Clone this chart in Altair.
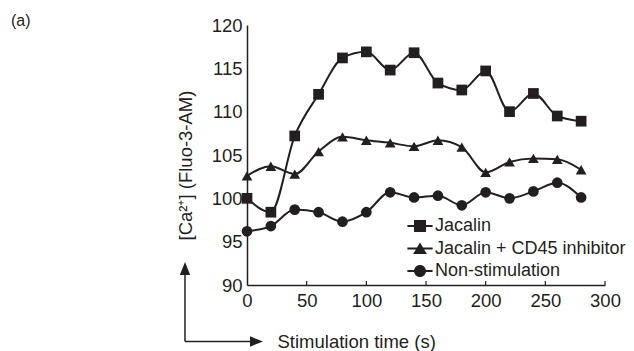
import altair as alt
import pandas as pd

# ---- data ----
time_s = [0, 20, 40, 60, 80, 100, 120, 140, 160, 180, 200, 220, 240, 260, 280]
jacalin = [100.0, 98.4, 107.2, 112.0, 116.2, 116.9, 114.8, 116.8, 113.3, 112.5, 114.7, 110.0, 112.1, 109.5, 108.9]
jacalin_cd45 = [102.6, 103.7, 102.8, 105.4, 107.1, 106.7, 106.4, 106.0, 106.7, 105.9, 103.0, 104.2, 104.6, 104.5, 103.3]
non_stim = [96.2, 96.8, 98.7, 98.4, 97.3, 98.4, 100.7, 100.1, 100.3, 99.2, 100.7, 100.0, 100.8, 101.8, 100.1]
series_names = ["Jacalin", "Jacalin + CD45 inhibitor", "Non-stimulation"]
x_ticks = [0, 50, 100, 150, 200, 250, 300]
y_ticks = [90, 95, 100, 105, 110, 115, 120]

rows = []
for name, vals in zip(series_names, [jacalin, jacalin_cd45, non_stim]):
    for t, v in zip(time_s, vals):
        rows.append({"time": t, "value": v, "series": name})
df = pd.DataFrame(rows)

C = "#231f20"
FONT = "Liberation Sans"
FS = 18.5

x_enc = alt.X("time:Q", scale=alt.Scale(domain=[0, 300], nice=False),
              axis=alt.Axis(values=x_ticks, title="Stimulation time (s)", titleX=30, titleY=56,
                            titleAlign="left", titleBaseline="middle", titleFontSize=FS,
                            titleFontWeight="normal", titleFont=FONT, titleColor=C,
                            ticks=False, grid=False, domainColor=C, domainWidth=1.5,
                            labelFontSize=FS, labelFont=FONT, labelColor=C, labelPadding=6,
                            labelFlush=False, labelOverlap=False))
y_enc = alt.Y("value:Q", scale=alt.Scale(domain=[90, 120], nice=False, zero=False),
              axis=alt.Axis(values=y_ticks, title="[Ca²⁺] (Fluo-3-AM)", titleAngle=270,
                            titleX=-62, titleY=140, titleAlign="center", titleBaseline="middle",
                            titleFontSize=FS, titleFontWeight="normal", titleFont=FONT, titleColor=C,
                            ticks=False, grid=False, domainColor=C, domainWidth=1.5,
                            labelFontSize=FS, labelFont=FONT, labelColor=C, labelPadding=5,
                            labelFlush=False, labelOverlap=False))

lines = alt.Chart(df).mark_line(interpolate="monotone", color=C, strokeWidth=2).encode(
    x=x_enc, y=y_enc, detail="series:N")

points = alt.Chart(df).mark_point(filled=True, color=C, opacity=1, size=115).encode(
    x="time:Q", y="value:Q",
    shape=alt.Shape("series:N", scale=alt.Scale(domain=series_names,
                                                range=["square", "triangle-up", "circle"]),
                    legend=None))

leg_paths = [
    "M-2.1,-0.17H-1V-1H1V-0.17H2.1V0.17H1V1H-1V0.17H-2.1Z",
    "M0,-1L1.15,0.9H-1.15Z M-2.1,-0.17H2.1V0.17H-2.1Z",
    "M-1,0A1,1 0 1,1 1,0A1,1 0 1,1 -1,0Z M-2.1,-0.17H2.1V0.17H-2.1Z",
]
legend_layer = alt.Chart(df).mark_point(filled=True, color=C, opacity=0).encode(
    x="time:Q", y="value:Q",
    shape=alt.Shape("series:N", scale=alt.Scale(domain=series_names, range=leg_paths),
                    legend=alt.Legend(title=None, orient="none", legendX=164, legendY=192,
                                      symbolSize=144, symbolOpacity=1, symbolFillColor=C,
                                      symbolStrokeWidth=0, labelOffset=6, labelFontSize=18,
                                      labelFont=FONT, labelColor=C, rowPadding=4.5, padding=0,
                                      labelLimit=0)))

tick_df = pd.DataFrame({"t": x_ticks[1:]})
ticks = alt.Chart(tick_df).mark_rule(color=C, strokeWidth=1.2).encode(
    x="t:Q", y=alt.value(260), y2=alt.value(256))

one = pd.DataFrame({"k": [0]})
v_arrow = alt.Chart(one).mark_rule(color=C, strokeWidth=1.5).encode(
    x=alt.value(-62), y=alt.value(316.5), y2=alt.value(243))
h_arrow = alt.Chart(one).mark_rule(color=C, strokeWidth=1.5).encode(
    x=alt.value(-62), x2=alt.value(10), y=alt.value(316.5))
v_head = alt.Chart(one).mark_point(filled=True, color=C, opacity=1, size=169,
                                   shape="M0,-1L0.8,1H-0.8Z").encode(
    x=alt.value(-62), y=alt.value(243.5))
h_head = alt.Chart(one).mark_point(filled=True, color=C, opacity=1, size=169,
                                   shape="M1,0L-1,0.8V-0.8Z").encode(
    x=alt.value(9.5), y=alt.value(316.5))
label_a = alt.Chart(pd.DataFrame({"t": ["(a)"]})).mark_text(
    align="left", baseline="middle", fontSize=16, font=FONT, color=C).encode(
    text="t:N", x=alt.value(-236), y=alt.value(-4))

chart = alt.layer(lines, legend_layer, points, ticks, v_arrow, h_arrow, v_head, h_head, label_a
                  ).resolve_scale(shape="independent").properties(
    width=358, height=260,
    autosize=alt.AutoSizeParams(type="none"),
    padding={"left": 239, "top": 17, "right": 21, "bottom": 66},
).configure_view(stroke=None)

chart.save("out.html", embed_options={"renderer": "svg", "actions": False})
